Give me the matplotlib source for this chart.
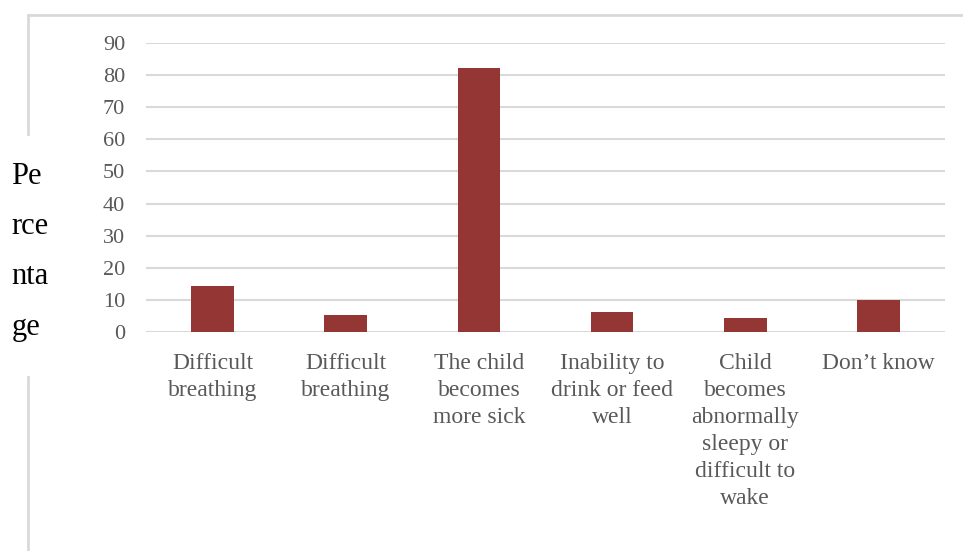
import matplotlib.pyplot as plt
from matplotlib.lines import Line2D

categories = [
    "Difficult\nbreathing",
    "Difficult\nbreathing",
    "The child\nbecomes\nmore sick",
    "Inability to\ndrink or feed\nwell",
    "Child\nbecomes\nabnormally\nsleepy or\ndifficult to\nwake",
    "Don\u2019t know",
]
percentages = [14.3, 5.3, 82.3, 6.3, 4.4, 10.0]
y_ticks = [0, 10, 20, 30, 40, 50, 60, 70, 80, 90]

plt.rcParams["font.family"] = ["Liberation Serif", "DejaVu Serif"]

fig = plt.figure(figsize=(9.63, 5.51), dpi=100)
ax = fig.add_axes([0.1516, 0.3975, 0.8297, 0.5245])

x = range(len(categories))
ax.bar(x, percentages, width=0.32, color="#943634", zorder=3)

ax.set_ylim(0, 90)
ax.set_xlim(-0.5, len(categories) - 0.5)
ax.set_yticks(y_ticks)
ax.set_xticks(list(x))
ax.set_xticklabels(categories, linespacing=1.38)
ax.tick_params(axis="y", length=0, pad=15, labelsize=16, labelcolor="#595959")
ax.tick_params(axis="x", length=0, pad=15, labelsize=17, labelcolor="#595959")
ax.grid(axis="y", color="#d9d9d9", linewidth=1.5, zorder=0)
for spine in ax.spines.values():
    spine.set_visible(False)

fig.text(0.012, 0.543, "Pe\nrce\nnta\nge", fontsize=22, color="black",
         ha="left", va="center", linespacing=1.97)

# outer frame (top and broken left edge)
frame_color = "#d9d9d9"
fig.add_artist(Line2D([0.029, 1.0], [0.973, 0.973], color=frame_color, lw=2))
fig.add_artist(Line2D([0.029, 0.029], [0.973, 0.757], color=frame_color, lw=2))
fig.add_artist(Line2D([0.029, 0.029], [0.316, 0.0], color=frame_color, lw=2))

fig.savefig("out.png", dpi=100)
